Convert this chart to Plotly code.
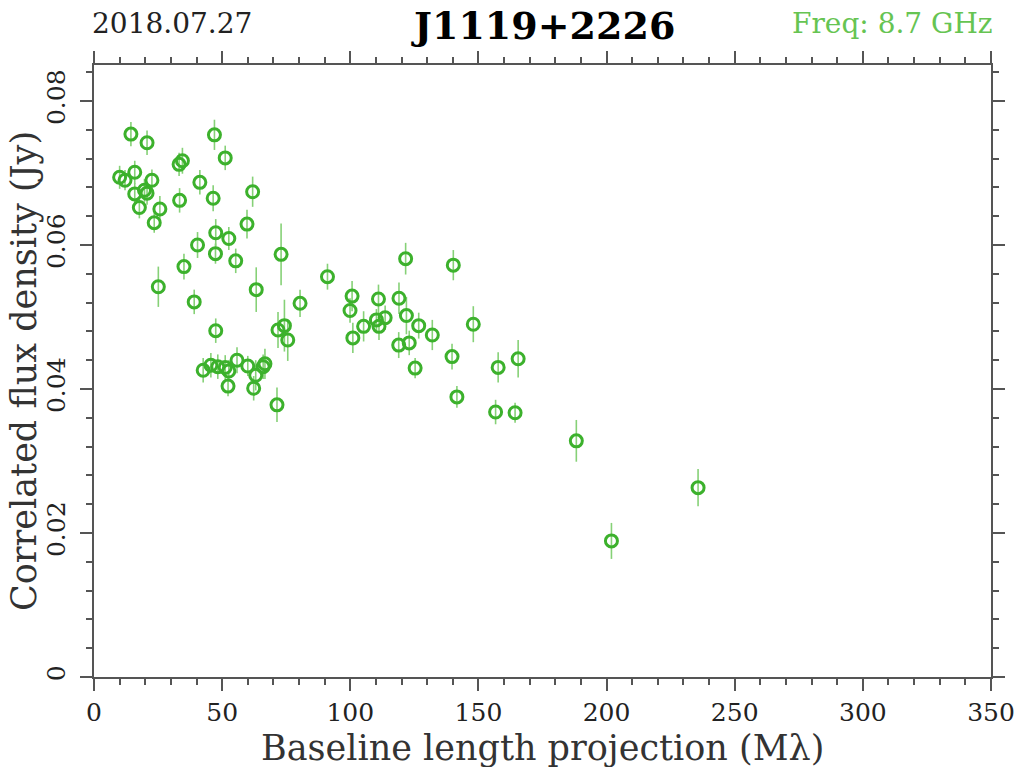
import plotly.graph_objects as go

# Baseline length projection (Mlambda)
baseline = [
    14.4, 20.7, 47.0, 51.2, 33.2, 34.5, 10.0, 12.1, 15.9, 22.6,
    41.3, 15.9, 19.7, 20.7, 17.7, 25.7, 23.5, 33.4, 46.5, 61.9,
    59.7, 47.5, 52.6, 40.4, 47.4, 55.3, 73.0, 35.1, 25.1, 63.3,
    39.1,
    80.4, 47.5, 71.8, 74.3, 75.6, 42.6, 45.6, 48.3, 51.2, 52.6,
    55.8, 60.0, 63.1, 66.0, 66.7, 52.3, 62.3, 71.4,
    91.1, 121.6, 140.2, 100.7, 99.9, 111.0, 119.0, 121.9, 110.2, 111.2,
    113.6, 105.2, 101.0, 126.7, 132.0, 148.0, 118.9, 123.0, 139.7, 125.3,
    157.7, 165.5, 141.6, 156.7, 164.3,
    188.2, 201.9, 235.7,
]

# Correlated flux density (Jy)
flux = [
    0.0754, 0.0742, 0.0753, 0.0721, 0.0712, 0.0717, 0.0694, 0.0690, 0.0701, 0.0690,
    0.0687, 0.0671, 0.0676, 0.0672, 0.0652, 0.0650, 0.0631, 0.0662, 0.0665, 0.0674,
    0.0629, 0.0617, 0.0609, 0.0600, 0.0588, 0.0578, 0.0587, 0.0570, 0.0542, 0.0538,
    0.0521,
    0.0519, 0.0481, 0.0482, 0.0488, 0.0468, 0.0426, 0.0433, 0.0431, 0.0430, 0.0425,
    0.0440, 0.0432, 0.0419, 0.0431, 0.0435, 0.0404, 0.0401, 0.0378,
    0.0556, 0.0581, 0.0572, 0.0529, 0.0509, 0.0525, 0.0526, 0.0502, 0.0496, 0.0487,
    0.0499, 0.0487, 0.0471, 0.0488, 0.0475, 0.0490, 0.0461, 0.0464, 0.0445, 0.0429,
    0.0430, 0.0442, 0.0389, 0.0368, 0.0367,
    0.0328, 0.0189, 0.0263,
]

# Flux density uncertainty (Jy)
flux_err = [
    0.0017, 0.0017, 0.0021, 0.0017, 0.0016, 0.0018, 0.0016, 0.0014, 0.0016, 0.0015,
    0.0017, 0.0015, 0.0016, 0.0016, 0.0015, 0.0018, 0.0014, 0.0017, 0.0018, 0.0021,
    0.0020, 0.0019, 0.0016, 0.0018, 0.0014, 0.0017, 0.0043, 0.0018, 0.0028, 0.0031,
    0.0017,
    0.0019, 0.0017, 0.0025, 0.0036, 0.0029, 0.0017, 0.0017, 0.0017, 0.0017, 0.0015,
    0.0018, 0.0014, 0.0021, 0.0017, 0.0021, 0.0014, 0.0017, 0.0024,
    0.0018, 0.0022, 0.0021, 0.0021, 0.0017, 0.0020, 0.0022, 0.0026, 0.0015, 0.0019,
    0.0017, 0.0021, 0.0021, 0.0018, 0.0021, 0.0025, 0.0018, 0.0017, 0.0018, 0.0014,
    0.0021, 0.0026, 0.0015, 0.0017, 0.0014,
    0.0029, 0.0025, 0.0026,
]

date_text = "2018.07.27"
source_name = "J1119+2226"
freq_text = "Freq: 8.7 GHz"
x_title = "Baseline length projection (M\u03bb)"
y_title = "Correlated flux density (Jy)"

FONT = "DejaVu Serif"
MARK = "#3cb12c"
ERRC = "#86d177"
AX = "#555555"

fig = go.Figure()
fig.add_trace(go.Scatter(
    x=baseline, y=flux, mode="markers",
    error_y=dict(type="data", array=flux_err, visible=True,
                 color=ERRC, thickness=1.6, width=0),
    marker=dict(symbol="circle-open", size=12, color=MARK,
                line=dict(width=3, color=MARK)),
    showlegend=False, hoverinfo="x+y",
))

axis_common = dict(
    showgrid=False, zeroline=False, showline=True, linecolor=AX, linewidth=1.5,
    mirror="allticks", ticks="outside", ticklen=12, tickwidth=1.5, tickcolor=AX,
    tickfont=dict(family=FONT, size=25, color="#222222"),
    automargin=False,
)

fig.update_xaxes(
    range=[0, 350], dtick=50, tick0=0,
    minor=dict(ticks="outside", ticklen=6, dtick=10, tickwidth=1.5, tickcolor=AX),
    **axis_common,
)
fig.update_yaxes(
    range=[0, 0.085], dtick=0.02, tick0=0, tickangle=-90,
    minor=dict(ticks="outside", ticklen=6, dtick=0.004, tickwidth=1.5, tickcolor=AX),
    ticklabelstandoff=5,
    **axis_common,
)

# axis titles as annotations for exact placement
fig.add_annotation(text=x_title, xref="paper", yref="paper", x=0.5, y=0.0,
                   xanchor="center", yanchor="middle", yshift=-71,
                   showarrow=False, font=dict(family=FONT, size=35, color="#333333"))
fig.add_annotation(text=y_title, xref="paper", yref="paper", x=0.0, y=0.5,
                   xanchor="center", yanchor="middle", xshift=-70, textangle=-90,
                   showarrow=False, font=dict(family=FONT, size=35, color="#333333"))

fig.add_annotation(text=date_text, xref="paper", yref="paper", x=0.0, y=1.0,
                   xanchor="left", yanchor="middle", yshift=42, xshift=-4,
                   showarrow=False, font=dict(family=FONT, size=28, color="#222222"))
fig.add_annotation(text="<b>" + source_name + "</b>", xref="paper", yref="paper", x=0.5, y=1.0,
                   xanchor="center", yanchor="middle", yshift=40,
                   showarrow=False, font=dict(family=FONT, size=38, color="#000000"))
fig.add_annotation(text=freq_text, xref="paper", yref="paper", x=1.0, y=1.0,
                   xanchor="right", yanchor="middle", yshift=42, xshift=4,
                   showarrow=False, font=dict(family=FONT, size=28, color="#66c452"))

fig.update_layout(
    width=1024, height=767,
    margin=dict(l=94, r=33, t=65, b=90, pad=0),
    paper_bgcolor="white", plot_bgcolor="white",
)

# remove the default page margin so the figure fills the window exactly
fig.write_html("out.html",
               config={"displayModeBar": False},
               post_script="document.body.style.margin='0';document.body.style.overflow='hidden';")
